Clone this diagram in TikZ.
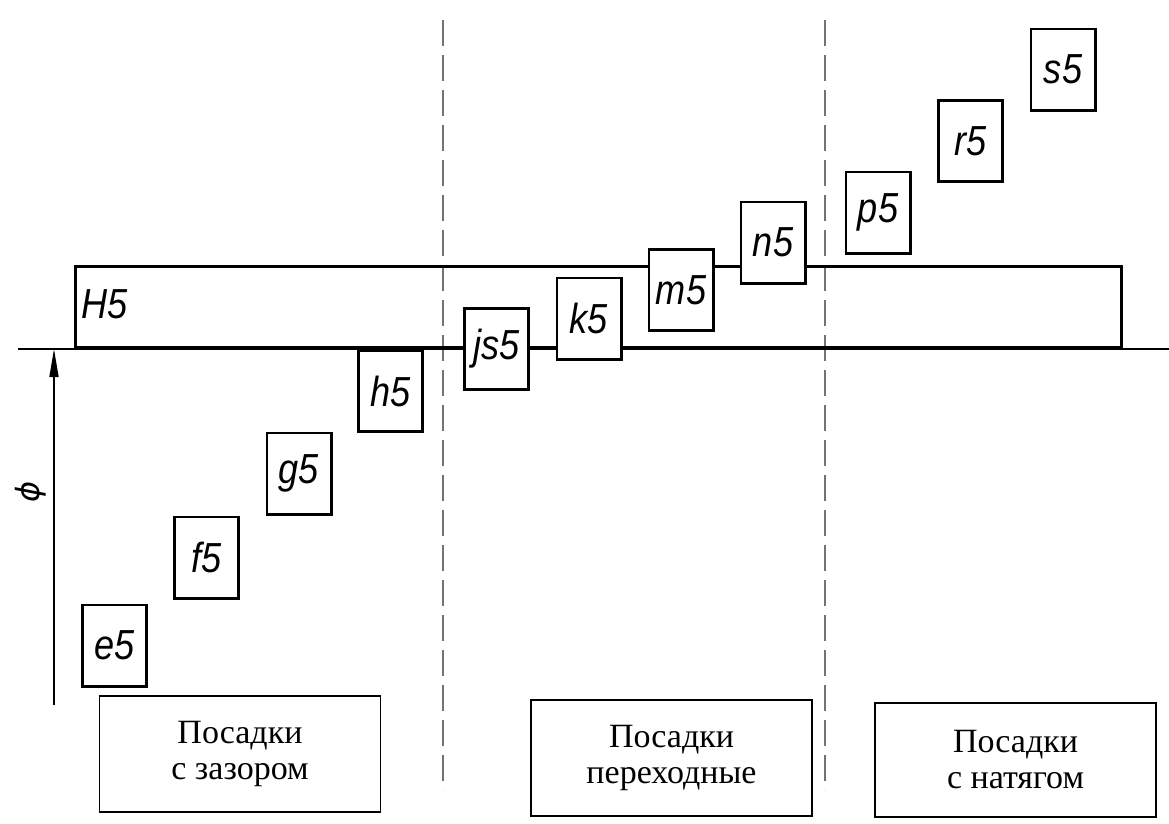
\documentclass[tikz,border=0pt]{standalone}
\usepackage{fontspec}
\setmainfont{Liberation Serif}
\newfontfamily\gostfont[FakeStretch=0.86]{Liberation Sans}
\newfontfamily\phifont{DejaVu Sans}
\usetikzlibrary{arrows.meta}
\begin{document}
\begin{tikzpicture}[x=1pt,y=-1pt,
  tolbox/.style={draw, fill=white, line width=2.6pt, minimum width=64.4pt, minimum height=81.4pt,
    inner sep=0pt, font=\gostfont\itshape\fontsize{42}{42}\selectfont},
  gostlbl/.style={inner sep=0pt, font=\gostfont\itshape\fontsize{42}{42}\selectfont},
  groupbox/.style={draw, line width=1.8pt, minimum width=281pt, minimum height=116pt,
    inner sep=0pt, align=center, font=\fontsize{34}{36}\selectfont},
  sepline/.style={draw=black!55, line width=1.3pt, dash pattern=on 26pt off 9pt},
  zeroline/.style={line width=1.4pt},
  axisarrow/.style={line width=1.6pt, -{Triangle[length=28pt,width=9pt]}}
]
\useasboundingbox (0,0) rectangle (1169,823);

% separators
\coordinate (d1t) at (443,20);
\coordinate (d1b) at (443,790);
\coordinate (d2t) at (825,20);
\coordinate (d2b) at (825,790);
\draw[sepline] (d1t) -- (d1b);
\draw[sepline] (d2t) -- (d2b);

% zero line
\coordinate (z1) at (18,349);
\coordinate (z2) at (1169,349);
\draw[zeroline] (z1) -- (z2);

% H5 field
\node[draw, line width=2.6pt, minimum width=1046.4pt, minimum height=81.4pt, inner sep=0pt] (H5) at (598.5,307) {};
\node[gostlbl] (H5lbl) at (105,304) {H5};

% axis arrow
\coordinate (a1) at (54,705);
\coordinate (a2) at (54,349);
\draw[axisarrow] (a1) -- (a2);
\node[rotate=90, inner sep=0pt, font=\phifont\itshape\fontsize{32}{32}\selectfont] (phi) at (31,492) {ϕ};

% tolerance fields
\node[tolbox] (e5) at (114.5,645.5) {e5};
\node[tolbox] (f5) at (206.5,557.5) {f5};
\node[tolbox] (g5) at (299,473.5) {g5};
\node[tolbox] (h5) at (390.5,391) {h5};
\node[tolbox] (js5) at (496.5,349) {js5};
\node[tolbox] (k5) at (589,318.5) {k5};
\node[tolbox] (m5) at (681,290) {m5};
\node[tolbox] (n5) at (773,242.5) {n5};
\node[tolbox] (p5) at (878,212.5) {p5};
\node[tolbox] (r5) at (970.5,141) {r5};
\node[tolbox] (s5) at (1063,69.5) {s5};

% group boxes
\node[groupbox] (g1) at (240,754) {Посадки\\с зазором};
\node[groupbox] (g2) at (671.5,758) {Посадки\\переходные};
\node[groupbox, minimum height=114pt] (g3) at (1015.5,760) {Посадки\\с натягом};
\end{tikzpicture}
\end{document}
